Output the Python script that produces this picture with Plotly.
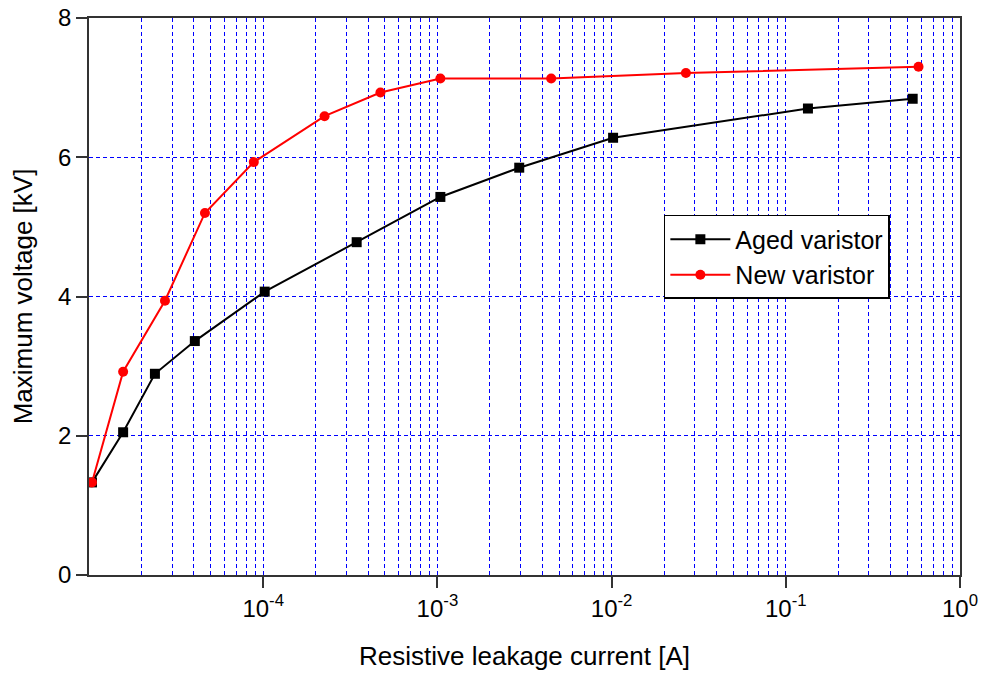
import plotly.graph_objects as go

# Data
aged_current = [1.04e-5, 1.57e-5, 2.39e-5, 4.05e-5, 1.02e-4, 3.44e-4, 1.04e-3, 2.95e-3, 1.02e-2, 0.134, 0.535]
aged_voltage = [1.33, 2.05, 2.89, 3.36, 4.07, 4.78, 5.43, 5.85, 6.28, 6.70, 6.84]

new_current = [1.04e-5, 1.57e-5, 2.73e-5, 4.63e-5, 8.83e-5, 2.25e-4, 4.71e-4, 1.04e-3, 4.5e-3, 2.67e-2, 0.578]
new_voltage = [1.33, 2.92, 3.94, 5.20, 5.93, 6.59, 6.93, 7.13, 7.13, 7.21, 7.30]

x_tick_vals = [1e-4, 1e-3, 1e-2, 1e-1, 1e0]
x_tick_text = ["10<sup>-4</sup>", "10<sup>-3</sup>", "10<sup>-2</sup>", "10<sup>-1</sup>", "10<sup>0</sup>"]
decades = [1e-5, 1e-4, 1e-3, 1e-2, 1e-1]
minor_vals = [d * k for d in decades for k in range(2, 10)]

FONT = "Liberation Sans, Arial, sans-serif"
GRID = "#0000ff"

fig = go.Figure()
fig.add_trace(go.Scatter(
    x=aged_current, y=aged_voltage, mode="lines+markers", name="Aged varistor",
    line=dict(color="black", width=2),
    marker=dict(symbol="square", size=10, color="black"),
))
fig.add_trace(go.Scatter(
    x=new_current, y=new_voltage, mode="lines+markers", name="New varistor",
    line=dict(color="red", width=2),
    marker=dict(symbol="circle", size=10, color="red"),
))

fig.update_layout(
    width=981, height=673,
    margin=dict(l=89, r=21, t=18, b=98),
    paper_bgcolor="white", plot_bgcolor="white",
    font=dict(family=FONT, size=24, color="black"),
    showlegend=True,
    hovermode=False,
    legend=dict(
        x=0.660, y=0.571, xanchor="left", yanchor="middle",
        bgcolor="white", bordercolor="black", borderwidth=1.5,
        font=dict(family=FONT, size=25, color="black"),
        itemwidth=60, tracegroupgap=0,
    ),
    xaxis=dict(
        type="log", range=[-5, 0], automargin=False,
        tickmode="array", tickvals=x_tick_vals, ticktext=x_tick_text,
        ticks="outside", ticklen=11, tickwidth=1.5, tickcolor="#333",
        showline=True, linecolor="#333", linewidth=1.5, mirror=True,
        showgrid=True, gridcolor=GRID, griddash="4px,3px", gridwidth=1,
        minor=dict(tickmode="array", tickvals=minor_vals, showgrid=True,
                   gridcolor=GRID, griddash="4px,3px", gridwidth=1, ticks=""),
        title=dict(text="Resistive leakage current [A]", standoff=26,
                   font=dict(family=FONT, size=26)),
        tickfont=dict(family=FONT, size=24),
        zeroline=False,
    ),
    yaxis=dict(
        range=[0, 8], tickmode="linear", tick0=0, dtick=2, automargin=False,
        ticks="outside", ticklen=11, tickwidth=1.5, tickcolor="#333",
        showline=True, linecolor="#333", linewidth=1.5, mirror=True,
        showgrid=True, gridcolor=GRID, griddash="4px,3px", gridwidth=1,
        title=dict(text="Maximum voltage [kV]", standoff=18,
                   font=dict(family=FONT, size=26)),
        tickfont=dict(family=FONT, size=24),
        zeroline=False,
    ),
)

fig.write_html("out.html", config={"displayModeBar": False},
               post_script="document.body.style.margin='0';")
